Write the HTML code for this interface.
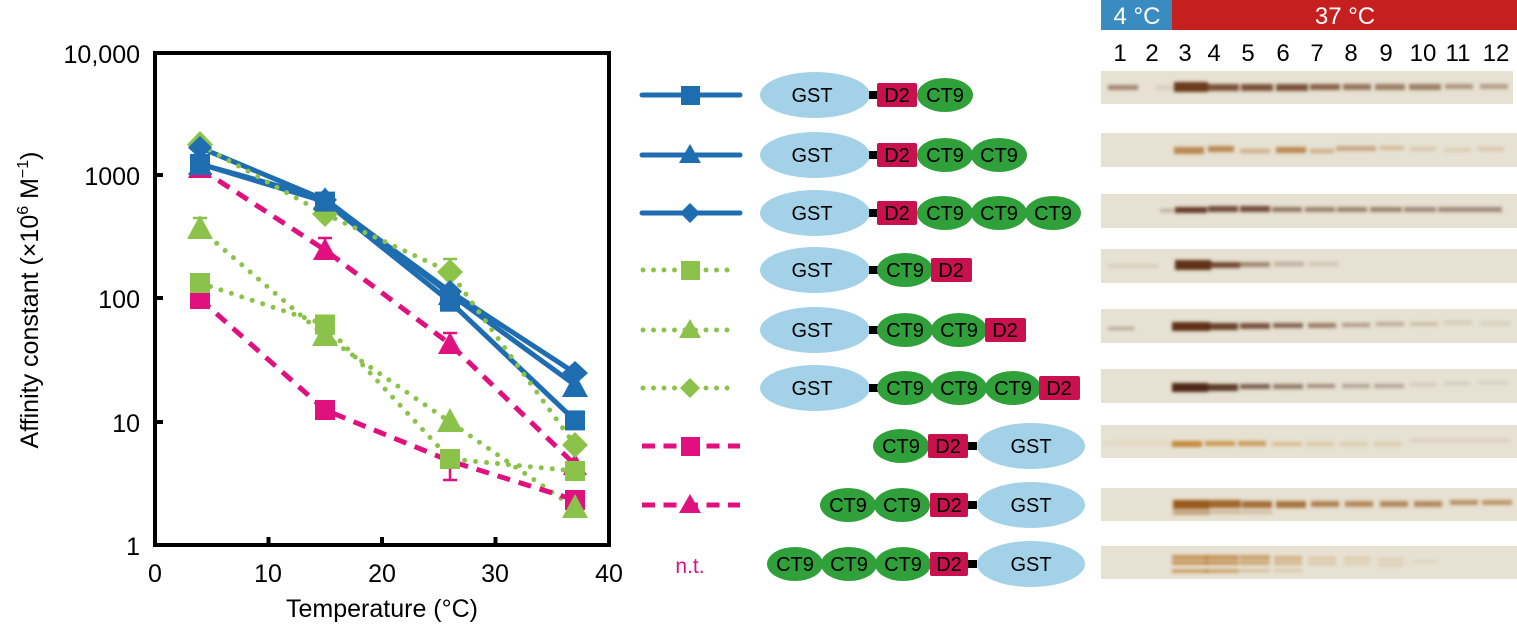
<!DOCTYPE html>
<html><head><meta charset="utf-8"><style>
body{margin:0;background:#fff;}
svg{display:block;font-family:"Liberation Sans",Arial,sans-serif;}
</style></head><body>
<svg width="1517" height="627" viewBox="0 0 1517 627" xmlns="http://www.w3.org/2000/svg">
<defs>
<filter id="bl" filterUnits="userSpaceOnUse" x="1090" y="60" width="427" height="540"><feGaussianBlur stdDeviation="1.6"/></filter>
</defs>
<rect x="155" y="53" width="454" height="492" fill="none" stroke="#000" stroke-width="4"/>
<g stroke="#000" stroke-width="4">
<line x1="268.5" y1="545" x2="268.5" y2="537"/><line x1="382" y1="545" x2="382" y2="537"/><line x1="495.5" y1="545" x2="495.5" y2="537"/>
<line x1="155" y1="422" x2="163" y2="422"/><line x1="155" y1="298" x2="163" y2="298"/><line x1="155" y1="175" x2="163" y2="175"/>
</g>
<g font-size="25" fill="#000" text-anchor="end">
<text x="140" y="63">10,000</text><text x="140" y="185">1000</text><text x="140" y="308">100</text><text x="140" y="432">10</text><text x="140" y="555">1</text>
</g>
<g font-size="25" fill="#000" text-anchor="middle">
<text x="155" y="582">0</text><text x="268" y="582">10</text><text x="382" y="582">20</text><text x="495" y="582">30</text><text x="609" y="582">40</text>
<text x="382" y="617">Temperature (°C)</text>
</g>
<text transform="translate(38,300) rotate(-90)" font-size="25" text-anchor="middle">Affinity constant (×10<tspan dy="-10" font-size="16">6</tspan><tspan dy="10"> M</tspan><tspan dy="-10" font-size="16">−1</tspan><tspan dy="10">)</tspan></text>

<g fill="none" stroke-linejoin="round" stroke-linecap="round">
<polyline points="200,164 325,201.6 450,301.7 575,420.4" stroke="#1f6db1" stroke-width="5"/>
<polyline points="200,164 325,199 450,294 575,385" stroke="#1f6db1" stroke-width="5"/>
<polyline points="200,147.6 325,199.9 450,291.5 575,373" stroke="#1f6db1" stroke-width="5"/>
<polyline points="200,283 325,324.5 450,459 575,471" stroke="#8bc34a" stroke-width="5" stroke-dasharray="0 11"/>
<polyline points="200,229 325,336 450,422 575,508" stroke="#8bc34a" stroke-width="5" stroke-dasharray="0 11"/>
<polyline points="200,144.6 325,214 450,272 575,445" stroke="#8bc34a" stroke-width="5" stroke-dasharray="0 11"/>
<polyline points="200,299 325,410 450,461 575,500" stroke="#e0117f" stroke-width="5" stroke-dasharray="13 9" stroke-linecap="butt"/>
<polyline points="200,168.5 325,250 450,344 575,464.7" stroke="#e0117f" stroke-width="5" stroke-dasharray="13 9" stroke-linecap="butt"/>
</g>
<g stroke-width="2.5">
<path d="M450 461 V480 M443 480 H457" stroke="#e0117f"/>
<path d="M325 250 V238 M318 238 H332" stroke="#e0117f"/>
<path d="M450 344 V333 M443 333 H457" stroke="#e0117f"/>
<path d="M450 272 V259 M443 259 H457" stroke="#8bc34a"/>
<path d="M200 229 V218 M193 218 H207" stroke="#8bc34a"/>
</g>
<g fill="#e0117f">
<rect x="190" y="289" width="20" height="20"/><rect x="315" y="400" width="20" height="20"/><rect x="565" y="490" width="20" height="20"/>
<polygon points="200,156 212,178 188,178"/><polygon points="325,238 337,260 313,260"/><polygon points="450,332 462,354 438,354"/><polygon points="575,453 587,475 563,475"/>
</g>
<g fill="#8bc34a">
<rect x="190" y="273" width="20" height="20"/><rect x="315" y="314.5" width="20" height="20"/><rect x="440" y="449" width="20" height="20"/><rect x="565" y="461" width="20" height="20"/>
<polygon points="200,215 213,239 187,239"/><polygon points="325,322 338,346 312,346"/><polygon points="450,408 463,432 437,432"/><polygon points="575,494 588,518 562,518"/>
<polygon points="200,131 213,144.6 200,158 187,144.6"/><polygon points="325,201 338,214 325,227 312,214"/><polygon points="450,259 463,272 450,285 437,272"/><polygon points="575,432 588,445 575,458 562,445"/>
</g>
<g fill="#1f6db1">
<rect x="190" y="154" width="20" height="20"/><rect x="315" y="191.6" width="20" height="20"/><rect x="440" y="291.7" width="20" height="20"/><rect x="565" y="410.4" width="20" height="20"/>
<polygon points="200,152 212,175 188,175"/><polygon points="325,187 337,210 313,210"/><polygon points="450,282 462,305 438,305"/><polygon points="575,373 588,397 562,397"/>
<polygon points="200,136 212,147.6 200,159 188,147.6"/><polygon points="325,188 337,199.9 325,212 313,199.9"/><polygon points="450,280 462,291.5 450,303 438,291.5"/><polygon points="575,361 588,373 575,385 562,373"/>
</g>

<g stroke-width="5" fill="none">
<line x1="642" y1="95" x2="740" y2="95" stroke="#1f6db1" stroke-linecap="round"/>
<line x1="642" y1="155" x2="740" y2="155" stroke="#1f6db1" stroke-linecap="round"/>
<line x1="642" y1="213" x2="740" y2="213" stroke="#1f6db1" stroke-linecap="round"/>
<line x1="643" y1="270" x2="735" y2="270" stroke="#8bc34a" stroke-linecap="round" stroke-dasharray="0 10.5"/>
<line x1="643" y1="330" x2="735" y2="330" stroke="#8bc34a" stroke-linecap="round" stroke-dasharray="0 10.5"/>
<line x1="643" y1="388" x2="735" y2="388" stroke="#8bc34a" stroke-linecap="round" stroke-dasharray="0 10.5"/>
<line x1="642" y1="446" x2="740" y2="446" stroke="#e0117f" stroke-dasharray="13 8.5"/>
<line x1="642" y1="505" x2="740" y2="505" stroke="#e0117f" stroke-dasharray="13 8.5"/>
</g>
<rect x="681" y="86" width="19" height="19" fill="#1f6db1"/>
<polygon points="690,144 701,163 679,163" fill="#1f6db1"/>
<polygon points="690,203 700,213 690,223 680,213" fill="#1f6db1"/>
<rect x="681" y="261" width="19" height="19" fill="#8bc34a"/>
<polygon points="690,319 701,338 679,338" fill="#8bc34a"/>
<polygon points="690,378 700,388 690,398 680,388" fill="#8bc34a"/>
<rect x="681" y="437" width="19" height="19" fill="#e0117f"/>
<polygon points="690,494 701,513 679,513" fill="#e0117f"/>
<text x="690" y="573" font-size="21" fill="#e0117f" text-anchor="middle">n.t.</text>

<g font-size="20" text-anchor="middle" fill="#000">
<g fill="#a3d2e8">
<ellipse cx="815" cy="95" rx="55" ry="23"/><ellipse cx="815" cy="155" rx="55" ry="23"/><ellipse cx="815" cy="213" rx="55" ry="23"/>
<ellipse cx="815" cy="270" rx="55" ry="23"/><ellipse cx="815" cy="330" rx="55" ry="23"/><ellipse cx="815" cy="388" rx="55" ry="23"/>
<ellipse cx="1031" cy="446" rx="54" ry="23"/><ellipse cx="1031" cy="505" rx="54" ry="23"/><ellipse cx="1031" cy="564" rx="54" ry="23"/>
</g>
<g fill="#000">
<rect x="869" y="91" width="9" height="8"/><rect x="869" y="151" width="9" height="8"/><rect x="869" y="209" width="9" height="8"/>
<rect x="869" y="266" width="9" height="8"/><rect x="869" y="326" width="9" height="8"/><rect x="869" y="384" width="9" height="8"/>
<rect x="968" y="442" width="9" height="8"/><rect x="968" y="501" width="9" height="8"/><rect x="968" y="560" width="9" height="8"/>
</g>
<g fill="#30a03a">
<ellipse cx="945" cy="95" rx="28" ry="17"/>
<ellipse cx="945" cy="155" rx="28" ry="17"/><ellipse cx="999" cy="155" rx="28" ry="17"/>
<ellipse cx="945" cy="213" rx="28" ry="17"/><ellipse cx="999" cy="213" rx="28" ry="17"/><ellipse cx="1053" cy="213" rx="28" ry="17"/>
<ellipse cx="905" cy="270" rx="28" ry="17"/>
<ellipse cx="905" cy="330" rx="28" ry="17"/><ellipse cx="959" cy="330" rx="28" ry="17"/>
<ellipse cx="905" cy="388" rx="28" ry="17"/><ellipse cx="959" cy="388" rx="28" ry="17"/><ellipse cx="1013" cy="388" rx="28" ry="17"/>
<ellipse cx="901" cy="446" rx="28" ry="17"/>
<ellipse cx="848" cy="505" rx="28" ry="17"/><ellipse cx="902" cy="505" rx="28" ry="17"/>
<ellipse cx="795" cy="564" rx="28" ry="17"/><ellipse cx="849" cy="564" rx="28" ry="17"/><ellipse cx="903" cy="564" rx="28" ry="17"/>
</g>
<g fill="#c8114e">
<rect x="877" y="83" width="40" height="24" rx="2"/><rect x="877" y="143" width="40" height="24" rx="2"/><rect x="877" y="201" width="40" height="24" rx="2"/>
<rect x="931" y="258" width="41" height="24" rx="2"/><rect x="985" y="318" width="41" height="24" rx="2"/><rect x="1039" y="376" width="41" height="24" rx="2"/>
<rect x="928" y="434" width="40" height="24" rx="2"/><rect x="930" y="493" width="38" height="24" rx="2"/><rect x="930" y="552" width="38" height="24" rx="2"/>
</g>
<text x="812" y="102">GST</text><text x="812" y="162">GST</text><text x="812" y="220">GST</text>
<text x="812" y="277">GST</text><text x="812" y="337">GST</text><text x="812" y="395">GST</text>
<text x="1031" y="453">GST</text><text x="1031" y="512">GST</text><text x="1031" y="571">GST</text>
<text x="897" y="102">D2</text><text x="897" y="162">D2</text><text x="897" y="220">D2</text>
<text x="951" y="277">D2</text><text x="1005" y="337">D2</text><text x="1059" y="395">D2</text>
<text x="948" y="453">D2</text><text x="949" y="512">D2</text><text x="949" y="571">D2</text>
<text x="945" y="102">CT9</text>
<text x="945" y="162">CT9</text><text x="999" y="162">CT9</text>
<text x="945" y="220">CT9</text><text x="999" y="220">CT9</text><text x="1053" y="220">CT9</text>
<text x="905" y="277">CT9</text>
<text x="905" y="337">CT9</text><text x="959" y="337">CT9</text>
<text x="905" y="395">CT9</text><text x="959" y="395">CT9</text><text x="1013" y="395">CT9</text>
<text x="901" y="453">CT9</text>
<text x="848" y="512">CT9</text><text x="902" y="512">CT9</text>
<text x="795" y="571">CT9</text><text x="849" y="571">CT9</text><text x="903" y="571">CT9</text>
</g>

<rect x="1101" y="0" width="71" height="30" fill="#3a8bbf"/>
<rect x="1172" y="0" width="345" height="30" fill="#c5201f"/>
<text x="1137" y="24" font-size="24" fill="#fff" text-anchor="middle">4 °C</text>
<text x="1345" y="24" font-size="24" fill="#fff" text-anchor="middle">37 °C</text>
<g font-size="24" text-anchor="middle" fill="#000">
<text x="1120" y="61">1</text><text x="1152" y="61">2</text><text x="1185" y="61">3</text><text x="1214" y="61">4</text><text x="1248" y="61">5</text><text x="1283" y="61">6</text><text x="1317" y="61">7</text><text x="1351" y="61">8</text><text x="1386" y="61">9</text><text x="1423" y="61">10</text><text x="1458" y="61">11</text><text x="1496" y="61">12</text>
</g>
<g fill="#e6e1d2">
<rect x="1101" y="71" width="412" height="33"/><rect x="1101" y="133" width="416" height="34"/><rect x="1101" y="194" width="416" height="34"/>
<rect x="1101" y="249" width="416" height="34"/><rect x="1101" y="309" width="416" height="34"/><rect x="1101" y="369" width="416" height="34"/>
<rect x="1101" y="425" width="416" height="33"/><rect x="1101" y="488" width="416" height="33"/><rect x="1101" y="546" width="416" height="33"/>
</g>
<g filter="url(#bl)">
<g fill="#6a3a1c">
<rect x="1108" y="85" width="30" height="5" opacity="0.55"/><rect x="1156" y="86" width="20" height="3" opacity="0.15"/>
<rect x="1174" y="82" width="34" height="10" opacity="1"/><rect x="1207" y="84" width="32" height="7" opacity="0.85"/><rect x="1241" y="84" width="32" height="7" opacity="0.85"/><rect x="1276" y="84" width="32" height="7" opacity="0.85"/><rect x="1310" y="84" width="30" height="6" opacity="0.75"/><rect x="1343" y="84" width="28" height="6" opacity="0.65"/><rect x="1375" y="84" width="30" height="6" opacity="0.6"/><rect x="1409" y="84" width="32" height="6" opacity="0.6"/><rect x="1445" y="84" width="28" height="5" opacity="0.45"/><rect x="1480" y="84" width="28" height="5" opacity="0.4"/>
</g>
<g fill="#a8621e">
<rect x="1174" y="147" width="30" height="7" opacity="0.7"/><rect x="1208" y="146" width="26" height="6" opacity="0.7"/><rect x="1240" y="149" width="30" height="4" opacity="0.4"/><rect x="1276" y="147" width="30" height="6" opacity="0.7"/><rect x="1310" y="149" width="24" height="4" opacity="0.4"/><rect x="1336" y="146" width="40" height="5" opacity="0.45"/><rect x="1380" y="146" width="24" height="4" opacity="0.3"/><rect x="1410" y="147" width="26" height="4" opacity="0.2"/><rect x="1445" y="148" width="26" height="4" opacity="0.15"/><rect x="1478" y="147" width="26" height="4" opacity="0.2"/>
</g>
<g fill="#5e3322">
<rect x="1160" y="209" width="14" height="3" opacity="0.3"/><rect x="1175" y="207" width="32" height="6" opacity="0.95"/><rect x="1208" y="206" width="30" height="6" opacity="0.85"/><rect x="1240" y="206" width="30" height="6" opacity="0.85"/><rect x="1272" y="207" width="30" height="5" opacity="0.6"/><rect x="1305" y="207" width="30" height="5" opacity="0.55"/><rect x="1337" y="207" width="30" height="5" opacity="0.55"/><rect x="1370" y="207" width="32" height="5" opacity="0.55"/><rect x="1404" y="207" width="32" height="5" opacity="0.5"/><rect x="1438" y="207" width="32" height="5" opacity="0.5"/><rect x="1470" y="207" width="32" height="5" opacity="0.5"/>
</g>
<g fill="#5e3018">
<rect x="1108" y="265" width="50" height="2" opacity="0.2"/><rect x="1175" y="260" width="36" height="10" opacity="1"/><rect x="1210" y="262" width="30" height="6" opacity="0.85"/><rect x="1240" y="262" width="30" height="5" opacity="0.5"/><rect x="1274" y="262" width="30" height="4" opacity="0.3"/><rect x="1308" y="262" width="30" height="4" opacity="0.15"/>
</g>
<g fill="#5e3018">
<rect x="1108" y="327" width="26" height="3" opacity="0.35"/><rect x="1172" y="322" width="38" height="9" opacity="1"/><rect x="1206" y="323" width="32" height="7" opacity="0.9"/><rect x="1240" y="323" width="30" height="6" opacity="0.8"/><rect x="1273" y="323" width="30" height="5" opacity="0.7"/><rect x="1308" y="323" width="28" height="5" opacity="0.55"/><rect x="1342" y="323" width="28" height="4" opacity="0.4"/><rect x="1376" y="322" width="28" height="4" opacity="0.3"/><rect x="1410" y="322" width="28" height="4" opacity="0.2"/><rect x="1444" y="321" width="28" height="3" opacity="0.15"/><rect x="1480" y="322" width="30" height="3" opacity="0.12"/>
</g>
<g fill="#4e2818">
<rect x="1172" y="383" width="36" height="9" opacity="1"/><rect x="1206" y="384" width="32" height="7" opacity="0.9"/><rect x="1240" y="384" width="30" height="5" opacity="0.7"/><rect x="1273" y="384" width="30" height="5" opacity="0.55"/><rect x="1307" y="384" width="28" height="4" opacity="0.45"/><rect x="1342" y="384" width="28" height="4" opacity="0.35"/><rect x="1374" y="384" width="30" height="4" opacity="0.35"/><rect x="1410" y="383" width="26" height="3" opacity="0.15"/><rect x="1444" y="382" width="26" height="3" opacity="0.12"/><rect x="1478" y="381" width="30" height="3" opacity="0.1"/>
</g>
<g fill="#c07a20">
<rect x="1103" y="442" width="70" height="2" opacity="0.15"/><rect x="1172" y="441" width="30" height="6" opacity="0.85"/><rect x="1205" y="441" width="30" height="5" opacity="0.7"/><rect x="1238" y="441" width="28" height="5" opacity="0.65"/><rect x="1272" y="442" width="30" height="4" opacity="0.35"/><rect x="1306" y="442" width="28" height="4" opacity="0.25"/><rect x="1340" y="442" width="28" height="4" opacity="0.2"/><rect x="1374" y="442" width="28" height="4" opacity="0.2"/><rect x="1410" y="439" width="100" height="3" opacity="0.15" fill="#b04040"/>
</g>
<g fill="#9a5a1a">
<rect x="1173" y="500" width="36" height="9" opacity="1"/><rect x="1207" y="500" width="34" height="8" opacity="0.9"/><rect x="1242" y="501" width="30" height="7" opacity="0.85"/><rect x="1276" y="501" width="30" height="7" opacity="0.8"/><rect x="1311" y="501" width="28" height="6" opacity="0.7"/><rect x="1345" y="501" width="28" height="6" opacity="0.65"/><rect x="1380" y="501" width="28" height="6" opacity="0.65"/><rect x="1414" y="501" width="28" height="6" opacity="0.65"/><rect x="1450" y="500" width="28" height="5" opacity="0.6"/><rect x="1482" y="500" width="30" height="5" opacity="0.55"/>
<rect x="1173" y="510" width="36" height="5" opacity="0.45"/><rect x="1207" y="510" width="34" height="4" opacity="0.3"/><rect x="1242" y="510" width="30" height="4" opacity="0.25"/>
</g>
<g fill="#b87828">
<rect x="1172" y="555" width="36" height="5" opacity="0.7"/><rect x="1172" y="561" width="36" height="4" opacity="0.7"/><rect x="1172" y="569" width="36" height="4" opacity="0.6"/>
<rect x="1205" y="555" width="34" height="5" opacity="0.7"/><rect x="1205" y="561" width="34" height="4" opacity="0.7"/><rect x="1205" y="569" width="34" height="4" opacity="0.55"/>
<rect x="1240" y="555" width="30" height="5" opacity="0.6"/><rect x="1240" y="561" width="30" height="4" opacity="0.55"/><rect x="1240" y="569" width="30" height="3" opacity="0.35"/>
<rect x="1274" y="556" width="28" height="4" opacity="0.45"/><rect x="1274" y="561" width="28" height="4" opacity="0.4"/><rect x="1274" y="569" width="28" height="3" opacity="0.25"/>
<rect x="1308" y="557" width="28" height="3" opacity="0.3"/><rect x="1308" y="562" width="28" height="3" opacity="0.25"/>
<rect x="1344" y="557" width="26" height="3" opacity="0.25"/><rect x="1344" y="562" width="26" height="3" opacity="0.2"/>
<rect x="1378" y="558" width="26" height="3" opacity="0.2"/><rect x="1378" y="563" width="26" height="3" opacity="0.2"/>
<rect x="1412" y="560" width="26" height="3" opacity="0.12"/>
</g>
</g>
</svg>
</body></html>
